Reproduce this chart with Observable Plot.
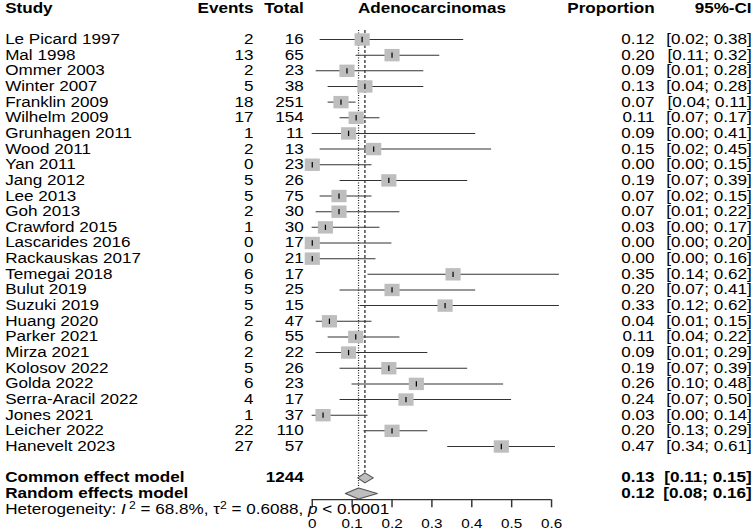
<!DOCTYPE html>
<html><head><meta charset="utf-8">
<script src="https://cdn.jsdelivr.net/npm/d3@7"></script>
<script src="https://cdn.jsdelivr.net/npm/@observablehq/plot@0.6"></script>
<style>
html,body{margin:0;padding:0;background:#fff;overflow:hidden;}
#chart{width:752px;height:531px;overflow:hidden;}
#chart svg{transform:scaleX(1.22078);transform-origin:0 0;display:block;overflow:visible;}
</style></head><body><div id="chart"></div>
<script>
// ---- data ----
const studies = ["Le Picard 1997","Mal 1998","Ommer 2003","Winter 2007","Franklin 2009","Wilhelm 2009","Grunhagen 2011","Wood 2011","Yan 2011","Jang 2012","Lee 2013","Goh 2013","Crawford 2015","Lascarides 2016","Rackauskas 2017","Temegai 2018","Bulut 2019","Suzuki 2019","Huang 2020","Parker 2021","Mirza 2021","Kolosov 2022","Golda 2022","Serra-Aracil 2022","Jones 2021","Leicher 2022","Hanevelt 2023"];
const events = [2,13,2,5,18,17,1,2,0,5,5,2,1,0,0,6,5,5,2,6,2,5,6,4,1,22,27];
const totals = [16,65,23,38,251,154,11,13,23,26,75,30,30,17,21,17,25,15,47,55,22,26,23,17,37,110,57];
const est = [0.125,0.200,0.087,0.132,0.072,0.110,0.091,0.154,0.000,0.192,0.067,0.067,0.033,0.000,0.000,0.353,0.200,0.333,0.043,0.109,0.091,0.192,0.261,0.235,0.027,0.200,0.474];
const prop = [0.12,0.20,0.09,0.13,0.07,0.11,0.09,0.15,0.00,0.19,0.07,0.07,0.03,0.00,0.00,0.35,0.20,0.33,0.04,0.11,0.09,0.19,0.26,0.24,0.03,0.20,0.47];
const lower = [0.02,0.11,0.01,0.04,0.04,0.07,0.00,0.02,0.00,0.07,0.02,0.01,0.00,0.00,0.00,0.14,0.07,0.12,0.01,0.04,0.01,0.07,0.10,0.07,0.00,0.13,0.34];
const upper = [0.38,0.32,0.28,0.28,0.11,0.17,0.41,0.45,0.15,0.39,0.15,0.22,0.17,0.20,0.16,0.62,0.41,0.62,0.15,0.22,0.29,0.39,0.48,0.50,0.14,0.29,0.61];

const models = ["Common effect model","Random effects model"];
const modelEst = [0.132, 0.116];
const modelLow = [0.114, 0.083];
const modelHigh = [0.153, 0.163];
const modelProp = [0.13, 0.12];
const modelCILow = [0.11, 0.08];
const modelCIHigh = [0.15, 0.16];
const totalN = 1244;

const headers = ["Study","Events","Total","Adenocarcinomas","Proportion","95%-CI"];
const hetI2 = "68.8%", hetTau2 = "0.6088", hetP = "0.0001";
const xTicks = [0,0.1,0.2,0.3,0.4,0.5,0.6];

// ---- tables ----
const n = studies.length;
const rows = studies.map((s,i)=>({study:s, events:events[i], total:totals[i], est:est[i], prop:prop[i], lo:lower[i], hi:upper[i], row:i}));
const sumRows = models.map((m,i)=>({model:m, est:modelEst[i], lo:modelLow[i], hi:modelHigh[i], prop:modelProp[i], cl:modelCILow[i], ch:modelCIHigh[i], row:n+1+i, h: i===0?0.32:0.35}));
const diamond = sumRows.flatMap(d=>[
  {model:d.model, x:d.lo, y:d.row},
  {model:d.model, x:d.est, y:d.row-d.h},
  {model:d.model, x:d.hi, y:d.row},
  {model:d.model, x:d.est, y:d.row+d.h}
]);
const headRow = -2;
const hetRow = n + 3.0;
const axisRow = n + 2.4, tickEnd = n + 2.92, labelRow = n + 3.98;

// ---- layout (internal px, svg is stretched horizontally by CSS) ----
const W = 616, H = 531;
const mL = 255.3, mR = W - 451.3, mB = 32;
const colStudy = 3.7 - mL, colEvents = 207.2 - mL, colTotal = 248.3 - mL;
const colProp = 535.7 - 451.3, colCI = 615.2 - 451.3;
const FS = 14;
const font = "'Liberation Sans', Arial, Helvetica, sans-serif";

const vbar = {draw(ctx, size){ const h = Math.sqrt(size)/2; ctx.moveTo(0,-h); ctx.lineTo(0,h); }};

const txt = (data, o) => Plot.text(data, {fontSize: FS, fill:"#000", ...o});

const chart = Plot.plot({
  width: W, height: H,
  marginLeft: mL, marginRight: mR, marginTop: 0, marginBottom: mB,
  style: {fontFamily: font, fontSize: FS+"px", background:"#fff", color:"#000", overflow:"visible"},
  x: {domain:[0,0.6], axis:null},
  y: {domain:[0,n-1], range:[39,446], axis:null},
  marks: [
    // reference lines
    Plot.ruleX([sumRows[0]], {x:"est", y1:()=>-0.58, y2:d=>d.row-d.h, stroke:"#222", strokeWidth:1, strokeDasharray:"3,2"}),
    Plot.ruleX([sumRows[1]], {x:"est", y1:()=>-0.58, y2:d=>d.row-d.h, stroke:"#222", strokeWidth:1, strokeDasharray:"1,1.5"}),
    // CI lines
    Plot.ruleY(rows, {y:"row", x1:"lo", x2:"hi", stroke:"#333", strokeWidth:1}),
    // squares
    Plot.dot(rows, {x:"est", y:"row", symbol:"square", r:7, fill:"#bebebe", stroke:"none"}),
    Plot.dot(rows, {x:"est", y:"row", symbol:vbar, r:3, stroke:"#000", fill:"none", strokeWidth:1}),
    // diamonds
    Plot.line(diamond, {x:"x", y:"y", z:"model", curve:"linear-closed", fill:"#bebebe", stroke:"#555", strokeWidth:1}),
    // axis
    Plot.ruleY([axisRow], {y:d=>d, x1:()=>xTicks[0], x2:()=>xTicks[xTicks.length-1], stroke:"#333", strokeWidth:1.2}),
    Plot.ruleX(xTicks, {x:d=>d, y1:()=>axisRow, y2:()=>tickEnd, stroke:"#333", strokeWidth:1.2}),
    txt(xTicks, {x:d=>d, y:()=>labelRow, text:d=>String(d), textAnchor:"middle", fontSize:12.5}),
    // headers
    txt([headers[0]], {text:d=>d, y:()=>headRow, frameAnchor:"left", dx:colStudy, textAnchor:"start", fontWeight:"bold"}),
    txt([headers[1]], {text:d=>d, y:()=>headRow, frameAnchor:"left", dx:colEvents, textAnchor:"end", fontWeight:"bold"}),
    txt([headers[2]], {text:d=>d, y:()=>headRow, frameAnchor:"left", dx:colTotal, textAnchor:"end", fontWeight:"bold"}),
    txt([headers[3]], {text:d=>d, x:()=>0.3, y:()=>headRow, textAnchor:"middle", fontWeight:"bold"}),
    txt([headers[4]], {text:d=>d, y:()=>headRow, frameAnchor:"right", dx:colProp, textAnchor:"end", fontWeight:"bold"}),
    txt([headers[5]], {text:d=>d, y:()=>headRow, frameAnchor:"right", dx:colCI, textAnchor:"end", fontWeight:"bold"}),
    // study rows
    txt(rows, {text:"study", y:"row", frameAnchor:"left", dx:colStudy, textAnchor:"start"}),
    txt(rows, {text:d=>String(d.events), y:"row", frameAnchor:"left", dx:colEvents, textAnchor:"end"}),
    txt(rows, {text:d=>String(d.total), y:"row", frameAnchor:"left", dx:colTotal, textAnchor:"end"}),
    txt(rows, {text:d=>d.prop.toFixed(2), y:"row", frameAnchor:"right", dx:colProp, textAnchor:"end"}),
    txt(rows, {text:d=>`[${d.lo.toFixed(2)}; ${d.hi.toFixed(2)}]`, y:"row", frameAnchor:"right", dx:colCI, textAnchor:"end"}),
    // summary rows
    txt(sumRows, {text:"model", y:"row", frameAnchor:"left", dx:colStudy, textAnchor:"start", fontWeight:"bold"}),
    txt([sumRows[0]], {text:()=>String(totalN), y:"row", frameAnchor:"left", dx:colTotal, textAnchor:"end", fontWeight:"bold"}),
    txt(sumRows, {text:d=>d.prop.toFixed(2), y:"row", frameAnchor:"right", dx:colProp, textAnchor:"end", fontWeight:"bold"}),
    txt(sumRows, {text:d=>`[${d.cl.toFixed(2)}; ${d.ch.toFixed(2)}]`, y:"row", frameAnchor:"right", dx:colCI, textAnchor:"end", fontWeight:"bold"}),
    // heterogeneity
    txt([`Heterogeneity: I² = ${hetI2}, τ² = ${hetTau2}, p < ${hetP}`], {text:d=>d, y:()=>hetRow, frameAnchor:"left", dx:colStudy, textAnchor:"start"})
  ]
});
document.getElementById("chart").appendChild(chart);

// rich formatting of heterogeneity line (italic I and p, superscript 2)
d3.select(chart).selectAll("text").filter(function(){ return this.textContent.startsWith("Heterogeneity"); }).each(function(){
  const t = d3.select(this);
  t.text(null);
  t.append("tspan").text("Heterogeneity: ");
  t.append("tspan").attr("font-style","italic").text("I");
  t.append("tspan").attr("dy",-5).attr("font-size",10).text(" 2");
  t.append("tspan").attr("dy",5).text(` = ${hetI2}, τ`);
  t.append("tspan").attr("dy",-5).attr("font-size",10).text("2");
  t.append("tspan").attr("dy",5).text(` = ${hetTau2}, `);
  t.append("tspan").attr("font-style","italic").text("p");
  t.append("tspan").text(` < ${hetP}`);
});
</script></body></html>
